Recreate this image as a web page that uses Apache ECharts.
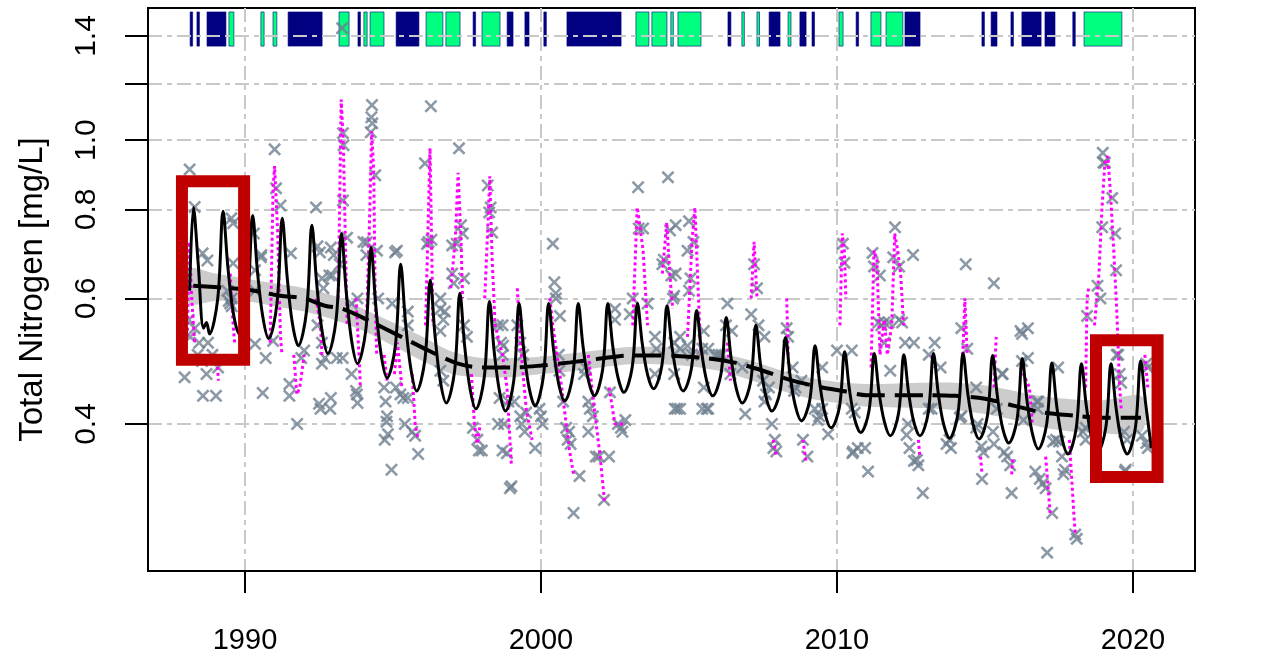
<!DOCTYPE html>
<html>
<head>
<meta charset="utf-8">
<script src="https://cdn.jsdelivr.net/npm/echarts@6.0.0/dist/echarts.min.js"></script>
<style>
html,body{margin:0;padding:0;background:#fff}
#main{width:1263px;height:656px}
</style>
</head>
<body>
<div id="main"></div>
<script>
// axis ticks
var xTicks = [1990, 2000, 2010, 2020];
var yTicks = [0.4, 0.6, 0.8, 1.0, 1.2, 1.4];
var yLabels = [0.4, 0.6, 0.8, 1.0, 1.4];

// observations (year, mg/L)
var points = [
  [1987.96,0.465],[1988.13,0.91],[1988.3,0.806],[1988.57,0.694],[1988.73,0.678],[1988.58,0.438],[1989.02,0.438],
  [1989.09,0.48],[1989.54,0.777],[1989.6,0.765],[1989.6,0.672],[1989.4,0.615],[1989.55,0.6],[1989.5,0.59],
  [1988.1,0.56],[1988.15,0.53],[1988.3,0.545],[1988.45,0.52],[1988.4,0.5],[1988.55,0.49],[1988.7,0.47],[1988.9,0.5],
  [1988.75,0.52],[1989.45,0.595],[1989.55,0.585],
  [1990.3,0.74],[1990.55,0.69],[1990.34,0.657],[1990.34,0.615],[1990.54,0.685],[1990.34,0.518],[1990.6,0.442],
  [1990.7,0.495],[1990.95,0.523],[1991.0,0.971],[1991.05,0.856],[1991.2,0.81],[1991.5,0.455],[1991.55,0.694],
  [1991.5,0.438],[1991.76,0.40],[1991.9,0.495],[1992.0,0.507],[1992.4,0.805],[1992.5,0.427],[1992.55,0.42],
  [1992.53,0.696],[1992.45,0.71],[1992.6,0.486],[1992.6,0.64],[1992.65,0.62],[1992.45,0.55],[1992.6,0.52],
  [1993.0,0.69],[1993.2,0.67],[1994.0,0.72],[1994.1,0.69],[1995.13,0.70],
  [1993.28,1.436],[1994.29,1.12],[1994.27,1.077],[1994.3,1.056],[1994.25,1.026],[1996.28,1.116],[1993.31,1.023],
  [1993.33,0.984],[1993.31,0.823],[1994.4,0.893],[1996.08,0.928],[1997.23,0.974],[1998.2,0.864],[1998.25,0.792],
  [1998.3,0.805],[1998.35,0.742],[1997.36,0.74],[1997.3,0.76],[1996.2,0.72],[1996.3,0.725],[1996.15,0.715],
  [1993.45,0.73],[1995.07,0.696],[1994.12,0.719],[1994.46,0.70],[1992.9,0.707],[1992.85,0.646],[1992.95,0.646],
  [1997.0,0.712],[1997.0,0.65],[1997.05,0.63],[1993.6,0.59],[1993.8,0.60],[1994.97,0.59],[1994.5,0.6],
  [1995.5,0.575],[1995.5,0.55],[1996.6,0.6],[1997.4,0.64],[1997.15,0.716],
  [1996.6,0.58],[1996.7,0.56],[1996.75,0.575],[1996.6,0.54],[1997.4,0.55],[1997.5,0.53],[1998.55,0.55],
  [1998.65,0.52],[1998.7,0.50],[1993.1,0.495],[1993.3,0.495],[1992.7,0.495],[1993.6,0.47],[1993.75,0.445],
  [1992.9,0.435],[1992.88,0.42],[1993.8,0.428],[1993.78,0.44],[1994.7,0.45],[1994.75,0.43],[1994.8,0.41],
  [1994.78,0.403],[1994.72,0.38],[1994.83,0.387],[1995.1,0.45],[1995.25,0.44],[1995.35,0.435],[1995.5,0.435],
  [1995.4,0.40],[1995.65,0.39],[1995.75,0.385],[1995.85,0.363],[1994.95,0.345],[1996.6,0.475],[1996.7,0.46],
  [1997.7,0.395],[1997.85,0.38],[1997.9,0.367],[1998.0,0.367],[1998.55,0.40],[1998.7,0.367],
  [2003.28,0.859],[2004.29,0.887],[2003.3,0.752],[2003.45,0.752],[2004.36,0.747],[2000.4,0.716],[2000.45,0.632],
  [2000.5,0.61],[2000.5,0.60],[2004.1,0.67],[2004.15,0.68],[2004.4,0.646],[2004.46,0.60],[2003.1,0.60],
  [2003.6,0.59],[2003.0,0.57],[2002.5,0.58],[2002.5,0.56],[2000.64,0.567],[1998.7,0.55],[1998.72,0.515],
  [1999.2,0.55],[1999.3,0.52],[1999.4,0.50],[2000.6,0.50],[2000.62,0.475],[2001.5,0.48],[2001.45,0.47],
  [2003.85,0.53],[2003.9,0.51],[2003.85,0.47],[2004.5,0.52],[2004.5,0.47],[2004.52,0.42],
  [1998.6,0.435],[1998.9,0.43],[1999.1,0.43],[1999.3,0.41],[1999.35,0.40],[1999.5,0.415],[1999.45,0.39],
  [2000.0,0.41],[2000.05,0.40],[1999.95,0.42],[1998.75,0.40],[1998.85,0.364],[1998.95,0.325],[1999.0,0.327],
  [1999.8,0.37],[2000.75,0.43],[2000.85,0.395],[2000.95,0.39],[2001.0,0.375],[2000.9,0.38],[2001.3,0.338],
  [2001.1,0.30],[2001.6,0.43],[2001.65,0.42],[2001.75,0.41],[2001.6,0.39],[2001.85,0.36],[2001.95,0.36],
  [2002.3,0.36],[2002.13,0.313],[2002.33,0.443],[2002.6,0.40],[2002.7,0.395],[2002.75,0.39],[2002.85,0.405],
  [2004.6,0.42],
  [2005.0,0.77],[2005.15,0.72],[2004.95,0.70],[2005.05,0.64],[2005.0,0.615],[2004.55,0.76],[2004.55,0.65],
  [2004.5,0.605],[2006.3,0.59],[2006.25,0.55],[2006.45,0.54],[2007.2,0.67],[2007.3,0.62],[2007.1,0.57],
  [2007.35,0.55],[2007.55,0.53],[2008.3,0.545],[2008.35,0.53],[2010.2,0.716],[2010.25,0.673],[2010.0,0.507],
  [2010.5,0.507],[2004.7,0.53],[2004.7,0.51],[2004.95,0.515],[2005.1,0.50],[2005.5,0.54],[2005.45,0.51],
  [2005.65,0.51],[2005.9,0.50],[2006.0,0.50],[2006.1,0.50],[2005.5,0.45],[2005.6,0.42],[2005.45,0.42],
  [2005.65,0.42],[2004.7,0.42],[2006.4,0.47],[2006.8,0.48],[2006.9,0.413],[2007.5,0.46],[2007.55,0.43],
  [2007.6,0.44],[2007.7,0.45],[2007.8,0.40],[2007.9,0.38],[2007.85,0.37],[2007.95,0.366],[2008.5,0.48],
  [2008.6,0.45],[2008.55,0.445],[2008.8,0.46],[2008.85,0.38],[2009.0,0.36],[2009.25,0.42],[2009.4,0.41],
  [2009.35,0.405],[2009.5,0.42],[2009.7,0.387],[2010.5,0.42],[2010.52,0.364],[2009.5,0.48],
  [2011.96,0.755],[2011.2,0.695],[2011.25,0.665],[2011.45,0.646],[2011.9,0.685],[2012.1,0.665],[2012.57,0.69],
  [2014.35,0.67],[2015.3,0.63],[2016.2,0.54],[2016.25,0.49],[2014.2,0.545],[2014.4,0.51],[2011.4,0.555],
  [2011.5,0.55],[2011.6,0.555],[2011.75,0.555],[2012.1,0.56],[2012.2,0.555],[2011.6,0.52],[2011.8,0.475],
  [2012.3,0.52],[2012.6,0.52],[2013.1,0.50],[2013.3,0.52],[2013.5,0.48],[2015.6,0.47],[2014.7,0.45],
  [2010.6,0.415],[2010.55,0.366],[2010.7,0.37],[2010.95,0.37],[2011.05,0.343],[2012.4,0.40],[2012.35,0.386],
  [2012.45,0.37],[2012.6,0.355],[2012.7,0.356],[2012.75,0.35],[2012.9,0.32],[2013.2,0.42],[2013.1,0.42],
  [2013.7,0.375],[2013.85,0.37],[2013.8,0.38],[2014.2,0.41],[2014.15,0.408],[2014.7,0.395],[2014.75,0.40],
  [2014.95,0.365],[2014.9,0.335],[2014.88,0.372],[2015.27,0.39],[2015.3,0.375],[2015.4,0.42],[2015.75,0.36],
  [2015.85,0.35],[2015.9,0.32],[2015.65,0.365],[2016.3,0.405],
  [2018.98,0.96],[2019.05,0.93],[2019.0,0.93],[2019.3,0.83],[2018.96,0.755],[2019.4,0.74],[2019.43,0.657],
  [2018.8,0.625],[2018.9,0.60],[2018.45,0.567],[2019.5,0.50],[2019.55,0.47],[2019.6,0.457],[2020.5,0.48],
  [2016.45,0.495],[2016.45,0.545],[2017.47,0.48],[2016.8,0.43],[2017.3,0.378],[2017.4,0.38],[2017.5,0.378],
  [2017.6,0.36],[2017.7,0.345],[2017.65,0.34],[2018.4,0.38],[2016.7,0.343],[2016.85,0.335],[2016.95,0.33],
  [2017.05,0.325],[2017.27,0.30],[2017.1,0.264],[2018.05,0.28],[2018.1,0.276],[2019.7,0.39],[2019.8,0.38],
  [2020.3,0.385],[2020.5,0.37],[2019.73,0.343],[2016.25,0.535],[2015.57,0.47],[2016.75,0.43],[2016.78,0.42],
  [2018.3,0.39],[2018.4,0.395],[2019.45,0.5],[2019.75,0.345],[2020.45,0.486],[2020.45,0.376]
];

// observations joined in time (dotted magenta)
var obsSegments = [
  [[1988.05,0.53],[1988.12,0.72],[1988.2,0.6],[1988.3,0.52]],
  [[1989.05,0.5],[1989.1,0.46]],
  [[1989.5,0.65],[1989.6,0.55],[1989.65,0.52]],
  [[1990.85,0.52],[1990.95,0.86],[1991.0,0.92],[1991.1,0.75],[1991.2,0.53],[1991.25,0.5]],
  [[1991.65,0.5],[1991.75,0.44],[1991.85,0.45],[1992.0,0.5]],
  [[1992.4,0.6],[1992.55,0.55],[1992.6,0.5]],
  [[1993.15,0.6],[1993.25,1.14],[1993.32,1.0],[1993.38,0.76],[1993.45,0.55]],
  [[1993.75,0.6],[1993.85,0.5],[1993.9,0.45]],
  [[1994.1,0.55],[1994.2,0.75],[1994.28,1.03],[1994.35,0.9],[1994.4,0.6],[1994.45,0.5]],
  [[1994.7,0.5],[1994.8,0.46]],
  [[1995.05,0.47],[1995.15,0.52],[1995.3,0.45]],
  [[1995.65,0.47],[1995.75,0.4],[1995.85,0.38]],
  [[1996.1,0.55],[1996.2,0.8],[1996.25,0.975],[1996.3,0.74],[1996.35,0.55]],
  [[1996.95,0.62],[1997.1,0.72],[1997.2,0.9],[1997.3,0.72],[1997.35,0.6]],
  [[1997.65,0.47],[1997.75,0.4],[1997.85,0.375],[1997.95,0.4]],
  [[1998.1,0.6],[1998.2,0.75],[1998.27,0.89],[1998.35,0.68],[1998.45,0.55],[1998.7,0.5],[1998.85,0.45],[1999.0,0.35]],
  [[1999.2,0.62],[1999.3,0.52],[1999.5,0.42],[1999.7,0.38]],
  [[2000.3,0.6],[2000.4,0.55],[2000.7,0.45],[2000.95,0.37],[2001.1,0.34]],
  [[2001.6,0.5],[2001.8,0.42],[2002.0,0.36],[2002.15,0.31]],
  [[2002.3,0.45],[2002.5,0.4],[2002.8,0.4]],
  [[2003.1,0.55],[2003.25,0.805],[2003.3,0.78],[2003.45,0.7],[2003.6,0.55]],
  [[2004.1,0.65],[2004.25,0.767],[2004.35,0.65],[2004.45,0.58]],
  [[2004.95,0.53],[2005.1,0.72],[2005.2,0.805],[2005.3,0.63],[2005.4,0.5]],
  [[2006.3,0.52],[2006.4,0.46]],
  [[2007.1,0.6],[2007.2,0.72],[2007.3,0.6]],
  [[2007.85,0.38],[2007.95,0.36]],
  [[2008.3,0.6],[2008.35,0.5]],
  [[2008.85,0.38],[2008.95,0.355]],
  [[2010.1,0.55],[2010.18,0.74],[2010.25,0.7],[2010.3,0.6]],
  [[2011.15,0.48],[2011.25,0.7],[2011.35,0.68],[2011.45,0.5],[2011.6,0.56],[2011.7,0.5],[2011.85,0.55],[2011.95,0.74],[2012.05,0.7],[2012.15,0.65],[2012.25,0.55]],
  [[2012.75,0.38],[2012.8,0.36]],
  [[2013.2,0.5],[2013.3,0.48]],
  [[2014.25,0.5],[2014.32,0.6],[2014.4,0.5]],
  [[2014.85,0.36],[2014.9,0.34]],
  [[2015.3,0.45],[2015.38,0.53]],
  [[2015.9,0.34],[2015.95,0.36]],
  [[2016.2,0.48],[2016.5,0.45],[2016.6,0.4]],
  [[2017.05,0.36],[2017.2,0.3]],
  [[2017.85,0.38],[2018.0,0.3],[2018.05,0.28]],
  [[2018.4,0.45],[2018.45,0.6],[2018.5,0.62]],
  [[2018.7,0.55],[2018.85,0.65],[2018.95,0.8],[2019.05,0.93],[2019.15,0.95],[2019.25,0.83],[2019.35,0.7],[2019.45,0.58],[2019.55,0.45],[2019.6,0.42]],
  [[2020.4,0.5],[2020.5,0.45]]
];

// seasonal model (solid black)
var seasonal = [
  [1988.13,0.615],[1988.26,0.805],[1988.42,0.67],[1988.6,0.545],[1988.7,0.555],[1988.8,0.535],
  [1989.08,0.60],[1989.26,0.795],[1989.42,0.665],[1989.6,0.574],[1989.8,0.535],
  [1990.08,0.597],[1990.26,0.784],[1990.42,0.655],[1990.6,0.566],[1990.8,0.527],
  [1991.08,0.59],[1991.26,0.777],[1991.42,0.646],[1991.6,0.554],[1991.8,0.515],
  [1992.08,0.576],[1992.26,0.76],[1992.42,0.631],[1992.6,0.541],[1992.8,0.502],
  [1993.08,0.561],[1993.26,0.74],[1993.42,0.613],[1993.6,0.524],[1993.8,0.486],
  [1994.08,0.541],[1994.26,0.707],[1994.42,0.585],[1994.6,0.50],[1994.8,0.464],
  [1995.08,0.515],[1995.26,0.67],[1995.42,0.557],[1995.6,0.479],[1995.8,0.445],
  [1996.08,0.493],[1996.26,0.636],[1996.42,0.532],[1996.6,0.459],[1996.8,0.428],
  [1997.08,0.474],[1997.26,0.61],[1997.42,0.515],[1997.6,0.449],[1997.8,0.42],
  [1998.08,0.464],[1998.26,0.594],[1998.42,0.505],[1998.6,0.444],[1998.8,0.417],
  [1999.08,0.46],[1999.26,0.59],[1999.42,0.507],[1999.6,0.449],[1999.8,0.424],
  [2000.08,0.466],[2000.26,0.59],[2000.42,0.51],[2000.6,0.455],[2000.8,0.431],
  [2001.08,0.47],[2001.26,0.59],[2001.42,0.514],[2001.6,0.461],[2001.8,0.438],
  [2002.08,0.476],[2002.26,0.59],[2002.42,0.516],[2002.6,0.465],[2002.8,0.443],
  [2003.08,0.48],[2003.26,0.59],[2003.42,0.519],[2003.6,0.469],[2003.8,0.448],
  [2004.08,0.482],[2004.26,0.586],[2004.42,0.515],[2004.6,0.466],[2004.8,0.445],
  [2005.08,0.478],[2005.26,0.577],[2005.42,0.507],[2005.6,0.459],[2005.8,0.438],
  [2006.08,0.47],[2006.26,0.564],[2006.42,0.496],[2006.6,0.448],[2006.8,0.428],
  [2007.08,0.458],[2007.26,0.55],[2007.42,0.483],[2007.6,0.437],[2007.8,0.417],
  [2008.08,0.445],[2008.26,0.529],[2008.42,0.466],[2008.6,0.423],[2008.8,0.404],
  [2009.08,0.432],[2009.26,0.515],[2009.42,0.455],[2009.6,0.413],[2009.8,0.395],
  [2010.08,0.422],[2010.26,0.505],[2010.42,0.447],[2010.6,0.406],[2010.8,0.389],
  [2011.08,0.417],[2011.26,0.502],[2011.42,0.443],[2011.6,0.403],[2011.8,0.385],
  [2012.08,0.414],[2012.26,0.50],[2012.42,0.442],[2012.6,0.402],[2012.8,0.385],
  [2013.08,0.414],[2013.26,0.502],[2013.42,0.442],[2013.6,0.40],[2013.8,0.382],
  [2014.08,0.412],[2014.26,0.502],[2014.42,0.441],[2014.6,0.399],[2014.8,0.381],
  [2015.08,0.41],[2015.26,0.499],[2015.42,0.437],[2015.6,0.394],[2015.8,0.376],
  [2016.08,0.405],[2016.26,0.494],[2016.42,0.431],[2016.6,0.388],[2016.8,0.369],
  [2017.08,0.399],[2017.26,0.487],[2017.42,0.425],[2017.6,0.382],[2017.8,0.363],
  [2018.08,0.394],[2018.26,0.486],[2018.42,0.425],[2018.6,0.383],[2018.8,0.365],
  [2019.08,0.395],[2019.26,0.486],[2019.42,0.424],[2019.6,0.381],[2019.8,0.363],
  [2020.08,0.395],[2020.26,0.49],[2020.42,0.43],[2020.62,0.37]
];

// trend (dashed) and its confidence band
var trendYears = [1988.25,1989.5,1990.3,1991.2,1992,1992.7,1993.3,1994.2,1995.2,1996.2,1997.2,1998,1998.5,1999,2000,2001,2002,2003,2004,2005.5,2006.5,2007.5,2008.5,2009.5,2010.2,2011,2012,2013,2014,2015,2016,2017,2018,2019,2020.27];
var trendVals = [0.625,0.62,0.615,0.605,0.6,0.586,0.58,0.558,0.532,0.507,0.486,0.48,0.48,0.48,0.483,0.488,0.494,0.499,0.499,0.495,0.488,0.475,0.46,0.45,0.445,0.439,0.439,0.439,0.438,0.434,0.424,0.415,0.411,0.408,0.408];
var bandYears = [1988.1,1989,1990,1991,1992,1993,1994,1995,1996,1997,1998,1999,2000,2001,2002,2003,2004,2005,2006,2007,2008,2009,2010,2011,2012,2013,2014,2015,2016,2017,2018,2019,2020.3];
var bandLow = [0.59,0.595,0.595,0.585,0.575,0.56,0.54,0.515,0.49,0.47,0.465,0.465,0.47,0.474,0.48,0.485,0.485,0.482,0.475,0.462,0.447,0.435,0.428,0.423,0.422,0.421,0.418,0.413,0.405,0.395,0.39,0.388,0.39];
var bandHigh = [0.66,0.65,0.64,0.63,0.62,0.605,0.58,0.555,0.53,0.505,0.495,0.495,0.497,0.502,0.508,0.513,0.513,0.51,0.503,0.492,0.477,0.465,0.458,0.455,0.456,0.457,0.457,0.453,0.445,0.437,0.433,0.432,0.437];

// rug periods at the top
var navyPeriods = [[1988.18,1988.24],[1988.41,1988.48],[1988.75,1989.39],[1991.49,1992.64],[1993.85,1993.92],[1995.14,1995.91],
  [1997.74,1997.8],[1998.89,1999.09],[1999.49,1999.63],[2000.13,2000.2],[2000.91,2002.74],[2006.35,2006.45],
  [2007.74,2008.11],[2008.78,2008.99],[2009.19,2009.26],[2010.68,2010.74],[2012.33,2012.84],[2014.93,2015.0],
  [2015.24,2015.44],[2015.91,2015.98],[2016.28,2016.93],[2017.06,2017.4],[2018.0,2018.07]];
var greenPeriods = [[1989.49,1989.66],[1990.57,1990.68],[1990.98,1991.11],[1993.21,1993.55],[1994.05,1994.16],[1994.26,1994.73],
  [1996.15,1996.72],[1996.82,1997.3],[1998.04,1998.65],[2003.24,2003.68],[2003.78,2004.29],[2004.42,2004.49],
  [2004.66,2005.44],[2006.82,2006.89],[2007.33,2007.4],[2008.38,2008.48],[2010.1,2010.24],[2011.18,2011.52],
  [2011.69,2012.26],[2018.38,2019.66]];

// highlighted windows: [x0, x1, yLow, yHigh]
var boxes = [[1987.87,1989.97,0.492,0.876],[2018.75,2020.83,0.337,0.524]];

var fontName = "'Liberation Sans', Arial, sans-serif";
var gridStyle = {color:'#c8c8c8', width:2, type:[14,5,5,5]};
var crossPath = 'path://M0,0.14 L0.14,0 L0.5,0.36 L0.86,0 L1,0.14 L0.64,0.5 L1,0.86 L0.86,1 L0.5,0.64 L0.14,1 L0,0.86 L0.36,0.5 Z';

function rugSeries(periods, color){
  return {
    type:'custom', z:-1, silent:true,
    data: periods,
    encode:{x:[0,1]},
    renderItem:function(params, api){
      var a = api.coord([api.value(0), 1.513]);
      var b = api.coord([api.value(1), 1.355]);
      var w = Math.max(b[0]-a[0], 2.5);
      return {type:'rect', shape:{x:a[0]-1, y:a[1], width:w, height:b[1]-a[1]},
        style:{fill:color, stroke:'#000080', lineWidth:0.6}};
    }
  };
}

var myChart = echarts.init(document.getElementById('main'));

var series = [];
series.push(rugSeries(navyPeriods, '#000080'));
series.push(rugSeries(greenPeriods, '#00ff7f'));

// band
series.push({
  type:'custom', z:2, silent:true,
  data:[[bandYears[0], bandLow[0]]],
  renderItem:function(params, api){
    var pts = [];
    for(var i=0;i<bandYears.length;i++){ pts.push(api.coord([bandYears[i], bandHigh[i]])); }
    for(var j=bandYears.length-1;j>=0;j--){ pts.push(api.coord([bandYears[j], bandLow[j]])); }
    return {type:'polygon', shape:{points:pts, smooth:0.3}, style:{fill:'#cccccc'}};
  }
});

series.push({
  type:'scatter', z:3, silent:true,
  data:points,
  symbol:crossPath, symbolSize:13,
  itemStyle:{color:'#6f8090'}
});

obsSegments.forEach(function(seg){
  series.push({
    type:'line', z:4, silent:true, data:seg, showSymbol:false,
    lineStyle:{color:'#ff00ff', width:3, type:[3,3]}
  });
});

series.push({
  type:'line', z:5, silent:true, data:seasonal, showSymbol:false, smooth:0.35,
  lineStyle:{color:'#000', width:3}
});

var trendData = trendYears.map(function(y, i){ return [y, trendVals[i]]; });
series.push({
  type:'line', z:6, silent:true, data:trendData, showSymbol:false, smooth:0.3,
  lineStyle:{color:'#000', width:4, type:[28,10]}
});

series.push({
  type:'custom', z:7, silent:true,
  data:boxes,
  encode:{x:[0,1]},
  renderItem:function(params, api){
    var a = api.coord([api.value(0), api.value(3)]);
    var b = api.coord([api.value(1), api.value(2)]);
    return {type:'rect', shape:{x:a[0], y:a[1], width:b[0]-a[0], height:b[1]-a[1]},
      style:{fill:'none', stroke:'#c00000', lineWidth:12}};
  }
});

var option = {
  animation:false,
  backgroundColor:'#fff',
  grid:{left:148, right:68, top:8, bottom:85, show:true, borderColor:'#000', borderWidth:2, backgroundColor:'transparent'},
  xAxis:{
    type:'value', min:1986.723, max:2022.095,
    axisLine:{show:true, lineStyle:{color:'#000', width:2}},
    axisTick:{show:true, customValues:xTicks, length:22, lineStyle:{color:'#000', width:2}},
    axisLabel:{customValues:xTicks, fontSize:29, color:'#000', margin:55, fontFamily:fontName,
      formatter:function(v){ return String(v); }},
    splitLine:{show:true, lineStyle:gridStyle}
  },
  yAxis:{
    type:'log', logBase:10, min:0.2488, max:1.5325,
    name:'Total Nitrogen [mg/L]', nameLocation:'middle', nameRotate:90, nameGap:99,
    nameTextStyle:{fontSize:33, color:'#000', fontFamily:fontName},
    axisLine:{show:true, lineStyle:{color:'#000', width:2}},
    axisTick:{show:true, customValues:yTicks, length:23, lineStyle:{color:'#000', width:2}},
    axisLabel:{customValues:yLabels, rotate:90, fontSize:30, color:'#000', margin:46, fontFamily:fontName,
      formatter:function(v){ return Number(v).toFixed(1); }},
    splitLine:{show:true, lineStyle:gridStyle}
  },
  series:series
};
myChart.setOption(option);
</script>
</body>
</html>
